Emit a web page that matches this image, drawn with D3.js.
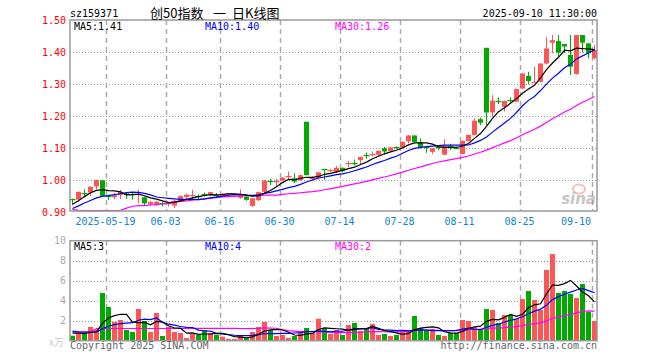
<!DOCTYPE html>
<html><head><meta charset="utf-8">
<script src="https://cdn.jsdelivr.net/npm/d3@7"></script>
<style>body{margin:0;background:#fff}svg{display:block}</style>
</head><body><svg id="c" width="660" height="360"></svg>
<script>
const dates = ["2025-05-09","2025-05-12","2025-05-13","2025-05-14","2025-05-15","2025-05-16","2025-05-19","2025-05-20","2025-05-21","2025-05-22","2025-05-23","2025-05-26","2025-05-27","2025-05-28","2025-05-29","2025-05-30",
"2025-06-03","2025-06-04","2025-06-05","2025-06-06","2025-06-09","2025-06-10","2025-06-11","2025-06-12","2025-06-13","2025-06-16","2025-06-17","2025-06-18","2025-06-19","2025-06-20","2025-06-23","2025-06-24","2025-06-25","2025-06-26","2025-06-27","2025-06-30",
"2025-07-01","2025-07-02","2025-07-03","2025-07-04","2025-07-07","2025-07-08","2025-07-09","2025-07-10","2025-07-11","2025-07-14","2025-07-15","2025-07-16","2025-07-17","2025-07-18","2025-07-21","2025-07-22","2025-07-23","2025-07-24","2025-07-25","2025-07-28","2025-07-29","2025-07-30","2025-07-31",
"2025-08-01","2025-08-04","2025-08-05","2025-08-06","2025-08-07","2025-08-08","2025-08-11","2025-08-12","2025-08-13","2025-08-14","2025-08-15","2025-08-18","2025-08-19","2025-08-20","2025-08-21","2025-08-22","2025-08-25","2025-08-26","2025-08-27","2025-08-28","2025-08-29",
"2025-09-01","2025-09-02","2025-09-03","2025-09-04","2025-09-05","2025-09-08","2025-09-09","2025-09-10"];

const open = [0.942,0.940,0.960,0.962,0.981,1.000,0.952,0.947,0.954,0.959,
0.957,0.955,0.947,0.926,0.923,0.930,0.926,0.921,0.934,0.948,
0.950,0.951,0.957,0.956,0.955,0.950,0.955,0.955,0.945,0.949,
0.920,0.938,0.964,0.997,0.997,0.999,1.009,1.006,1.001,1.183,
1.005,1.008,1.034,1.029,1.027,1.039,1.051,1.054,1.063,1.078,
1.080,1.080,1.100,1.092,1.103,1.103,1.122,1.140,1.119,1.104,
1.089,1.104,1.080,1.106,1.102,1.082,1.123,1.142,1.191,1.414,
1.212,1.248,1.230,1.250,1.246,1.287,1.326,1.306,1.308,1.365,
1.430,1.435,1.426,1.392,1.332,1.454,1.428,1.381];

const high = [0.943,0.965,0.972,0.981,1.002,1.001,0.955,0.961,0.970,0.962,
0.964,0.970,0.949,0.935,0.935,0.933,0.933,0.938,0.953,0.958,
0.970,0.956,0.962,0.964,0.960,0.960,0.960,0.958,0.972,0.950,
0.945,0.965,1.000,1.004,1.004,1.010,1.027,1.022,1.018,1.183,
1.012,1.025,1.036,1.036,1.045,1.040,1.061,1.065,1.074,1.087,
1.090,1.093,1.104,1.104,1.106,1.122,1.142,1.141,1.131,1.108,
1.101,1.110,1.128,1.114,1.106,1.125,1.143,1.194,1.196,1.414,
1.266,1.259,1.249,1.259,1.286,1.335,1.339,1.355,1.366,1.447,
1.454,1.454,1.426,1.454,1.454,1.454,1.428,1.423];

const low = [0.923,0.933,0.949,0.951,0.972,0.950,0.938,0.941,0.941,0.942,
0.940,0.928,0.921,0.921,0.920,0.918,0.918,0.913,0.932,0.940,
0.938,0.937,0.949,0.950,0.947,0.948,0.952,0.952,0.942,0.936,
0.917,0.935,0.962,0.985,0.982,0.997,1.001,0.991,0.998,1.016,
1.000,1.002,1.001,1.025,1.022,1.025,1.041,1.046,1.051,1.068,
1.075,1.075,1.081,1.090,1.098,1.101,1.115,1.119,1.099,1.086,
1.082,1.094,1.079,1.095,1.098,1.082,1.122,1.140,1.173,1.173,
1.199,1.238,1.215,1.241,1.244,1.285,1.300,1.304,1.306,1.362,
1.397,1.386,1.397,1.329,1.330,1.399,1.381,1.378];

const close = [0.940,0.964,0.958,0.980,1.001,0.951,0.950,0.953,0.964,0.954,
0.955,0.957,0.928,0.932,0.933,0.928,0.930,0.936,0.951,0.955,
0.953,0.949,0.955,0.963,0.953,0.958,0.959,0.957,0.955,0.939,
0.944,0.963,0.999,0.995,0.999,1.008,1.012,0.996,1.016,1.016,
1.007,1.025,1.030,1.031,1.039,1.030,1.053,1.052,1.073,1.076,
1.083,1.092,1.090,1.103,1.101,1.120,1.140,1.120,1.103,1.102,
1.100,1.102,1.107,1.104,1.100,1.123,1.142,1.186,1.180,1.212,
1.249,1.246,1.248,1.248,1.285,1.334,1.310,1.308,1.365,1.412,
1.438,1.399,1.418,1.355,1.454,1.430,1.397,1.407];

// volume in 万
const volume = [0.50,0.73,0.73,1.37,1.13,4.77,3.37,1.87,2.07,1.07,
0.87,3.17,1.97,0.87,2.77,0.47,1.37,0.87,0.77,0.27,
0.67,0.57,1.07,0.77,0.57,0.40,0.17,0.17,0.47,0.27,
0.87,1.37,1.87,1.07,0.47,0.57,0.27,0.47,0.87,1.27,
0.77,2.20,1.27,0.67,1.07,0.57,1.57,1.77,0.97,1.17,
1.67,0.57,0.67,0.47,0.57,0.87,1.07,2.47,1.27,0.97,
1.17,0.57,0.47,0.77,0.77,2.07,1.97,1.37,1.07,3.17,
3.07,1.77,2.57,2.57,2.17,4.17,4.97,4.07,3.07,7.07,
8.67,4.77,4.97,4.67,4.27,5.67,2.87,1.97];

// moving-average values before enough in-window data exists
const priceMA5Head = [0.925,0.936,0.949,0.961];
const priceMA10Head = [0.912,0.920,0.929,0.937,0.945,0.950,0.952,0.955,0.958];
const priceMA30Head = [0.909,0.906,0.905,0.905,0.905,0.905,0.905,0.905,0.906,0.913,
0.919,0.921,0.921,0.923,0.924,0.926,0.928,0.931,0.934,0.936,
0.938,0.940,0.942,0.944,0.946,0.948,0.949,0.950,0.951];
const volMA5Head = [0.75,0.75,0.72,0.82];
const volMA10Head = [0.95,0.88,0.85,0.85,0.88,1.20,1.45,1.60,1.70];
const volMA30Head = [0.87,0.87,0.87,0.87,1.22,1.22,1.22,1.22,1.22,1.22,
1.22,1.22,1.22,1.22,1.22,1.22,1.22,1.22,1.22,1.22,
1.24,1.24,1.24,1.24,1.24,1.24,1.24,1.24,1.22];

const priceTicks = [0.90,1.00,1.10,1.20,1.30,1.40,1.50];
const priceGrid = [1.00,1.10,1.20,1.30,1.40];
const volTicks = [2,4,6,8,10];
const volGrid = [2,4,6,8];
const dateTicks = ["2025-05-19","2025-06-03","2025-06-16","2025-06-30","2025-07-14","2025-07-28","2025-08-11","2025-08-25","2025-09-10"];
const dateTickLabels = ["2025-05-19","06-03","06-16","06-30","07-14","07-28","08-11","08-25","09-10"];
const priceLegend = ["MA5:1.41","MA10:1.40","MA30:1.26"];
const volLegend = ["MA5:3","MA10:4","MA30:2"];
const maColors = ["#000000","#0000ff","#ff00ff"];

const RED = "#ff5555", GREEN = "#00aa00";
const MONO = "'DejaVu Sans Mono', monospace";

function movingAvg(arr, n, head) {
  return arr.map((v, i) => i < n - 1 ? head[i] : d3.mean(arr.slice(i - n + 1, i + 1)));
}

const svg = d3.select("#c");
svg.append("rect").attr("width", 660).attr("height", 360).attr("fill", "#fff");

const x = d3.scaleBand().domain(dates).range([69.5, 597.5]);
const cx = d => x(d) + 3;
const yP = d3.scaleLinear().domain([0.9, 1.5]).range([212.3, 20.3]);
const yV = d3.scaleLinear().domain([0, 10]).range([340.7, 240.7]);

const P = {l: 70, t: 20, r: 597, b: 211};
const V = {l: 70, t: 240.7, r: 597, b: 340.7};

// horizontal grids
svg.append("g").selectAll("line").data(priceGrid).join("line")
  .attr("x1", P.l).attr("x2", P.r)
  .attr("y1", d => Math.round(yP(d)) + 0.5).attr("y2", d => Math.round(yP(d)) + 0.5)
  .attr("stroke", "#999").attr("stroke-dasharray", "1,2");
svg.append("g").selectAll("line").data(volGrid).join("line")
  .attr("x1", V.l).attr("x2", V.r)
  .attr("y1", d => Math.round(yV(d)) + 0.5).attr("y2", d => Math.round(yV(d)) + 0.5)
  .attr("stroke", "#999").attr("stroke-dasharray", "1,2");

// vertical dashed grids
[[P.t, P.b], [V.t, V.b]].forEach(([t, b]) => {
  svg.append("g").selectAll("line").data(dateTicks).join("line")
    .attr("x1", d => x(d) + 1).attr("x2", d => x(d) + 1)
    .attr("y1", t).attr("y2", b)
    .attr("stroke", "#aaa").attr("stroke-width", 1.5).attr("stroke-dasharray", "5,4");
});

// sina watermark
const wm = svg.append("g").attr("opacity", 0.55);
wm.append("ellipse").attr("cx", 579).attr("cy", 189).attr("rx", 6).attr("ry", 4.5)
  .attr("fill", "none").attr("stroke", "#f08c8c").attr("stroke-width", 2);
wm.append("text").attr("x", 596).attr("y", 204).attr("text-anchor", "end")
  .attr("font-family", "'DejaVu Sans', sans-serif").attr("font-size", 15)
  .attr("font-weight", "bold").attr("font-style", "italic").attr("fill", "#999").text("sina");

// candles
const idx = d3.range(dates.length);
const cg = svg.append("g");
idx.forEach(i => {
  const d = dates[i], o = open[i], c = close[i];
  const col = c >= o ? RED : GREEN;
  const xc = cx(d);
  cg.append("line").attr("x1", xc).attr("x2", xc)
    .attr("y1", yP(high[i])).attr("y2", yP(low[i]))
    .attr("stroke", col).attr("stroke-width", 1);
  const top = yP(Math.max(o, c)), bot = yP(Math.min(o, c));
  const h = bot - top;
  if (h < 1.5) {
    cg.append("rect").attr("x", xc - 3).attr("y", Math.round(top))
      .attr("width", 6).attr("height", 1.2).attr("fill", col);
  } else {
    cg.append("rect").attr("x", xc - 2.5).attr("y", top)
      .attr("width", 5).attr("height", h).attr("fill", col);
  }
});

// volume bars
svg.append("g").selectAll("rect").data(idx).join("rect")
  .attr("x", i => cx(dates[i]) - 2.5).attr("width", 5)
  .attr("y", i => yV(volume[i])).attr("height", i => yV(0) - yV(volume[i]))
  .attr("fill", i => close[i] >= open[i] ? RED : GREEN);

// MA lines
const pMA = [movingAvg(close, 5, priceMA5Head), movingAvg(close, 10, priceMA10Head), movingAvg(close, 30, priceMA30Head)];
const vMA = [movingAvg(volume, 5, volMA5Head), movingAvg(volume, 10, volMA10Head), movingAvg(volume, 30, volMA30Head)];
const lineP = d3.line().x((v, i) => cx(dates[i])).y(v => yP(v));
const lineV = d3.line().x((v, i) => cx(dates[i])).y(v => yV(v));
[2, 1, 0].forEach(k => {
  svg.append("path").attr("d", lineP(pMA[k])).attr("fill", "none")
    .attr("stroke", maColors[k]).attr("stroke-width", 1.2);
  svg.append("path").attr("d", lineV(vMA[k])).attr("fill", "none")
    .attr("stroke", maColors[k]).attr("stroke-width", 1.2);
});

// borders
[P, V].forEach(p => {
  svg.append("rect").attr("x", p.l).attr("y", p.t).attr("width", p.r - p.l).attr("height", p.b - p.t)
    .attr("fill", "none").attr("stroke", "#999").attr("stroke-width", 1.5);
});

// axis labels
svg.append("g").selectAll("text").data(priceTicks).join("text")
  .attr("x", 66).attr("y", d => yP(d) + 3.5).attr("text-anchor", "end")
  .attr("font-family", MONO).attr("font-size", 10).attr("fill", "#ff0000")
  .text(d => d.toFixed(2));
svg.append("g").selectAll("text").data(volTicks).join("text")
  .attr("x", 66).attr("y", d => yV(d) + 3.5).attr("text-anchor", "end")
  .attr("font-family", MONO).attr("font-size", 10).attr("fill", "#aaa")
  .text(d => d);
svg.append("text").attr("x", 64).attr("y", 346).attr("text-anchor", "end")
  .attr("font-family", "'Noto Sans CJK SC', sans-serif").attr("font-size", 10).attr("fill", "#ccc").text("x万");

svg.append("g").selectAll("text").data(dateTicks).join("text")
  .attr("x", (d, i) => i === dateTicks.length - 1 ? 591 : x(d))
  .attr("y", 225)
  .attr("text-anchor", (d, i) => i === dateTicks.length - 1 ? "end" : "middle")
  .attr("font-family", MONO).attr("font-size", 10).attr("fill", "#0f86d4")
  .text((d, i) => dateTickLabels[i]);

// legends
const legX = [74, 205, 335];
priceLegend.forEach((t, k) => svg.append("text").attr("x", legX[k]).attr("y", 29.5)
  .attr("font-family", MONO).attr("font-size", 10).attr("fill", maColors[k]).text(t));
volLegend.forEach((t, k) => svg.append("text").attr("x", legX[k]).attr("y", 249.5)
  .attr("font-family", MONO).attr("font-size", 10).attr("fill", maColors[k]).text(t));

// header
svg.append("text").attr("x", 70).attr("y", 17).attr("font-family", MONO).attr("font-size", 10)
  .attr("fill", "#000").text("sz159371");
const title = svg.append("text").attr("y", 18).attr("font-family", "'Noto Sans CJK SC', sans-serif")
  .attr("font-size", 13).attr("fill", "#000");
title.append("tspan").attr("x", 150).text("创50指数");
title.append("tspan").attr("x", 213).text("一");
title.append("tspan").attr("x", 232).text("日K线图");
svg.append("text").attr("x", 597).attr("y", 17).attr("text-anchor", "end")
  .attr("font-family", MONO).attr("font-size", 10).attr("fill", "#000").text("2025-09-10 11:30:00");

// footer
svg.append("text").attr("x", 70).attr("y", 349).attr("font-family", MONO).attr("font-size", 10)
  .attr("fill", "#666").text("Copyright 2025 SINA.COM");
svg.append("text").attr("x", 597).attr("y", 349).attr("text-anchor", "end").attr("font-family", MONO)
  .attr("font-size", 10).attr("fill", "#666").text("http://finance.sina.com.cn");
</script></body></html>
